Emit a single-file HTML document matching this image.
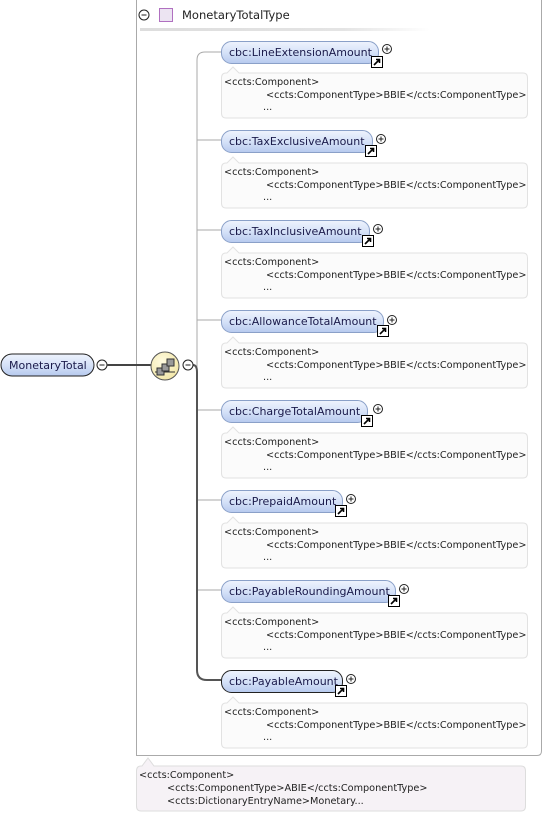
<!DOCTYPE html>
<html><head><meta charset="utf-8"><style>
body{margin:0;background:#fff;width:544px;height:815px;overflow:hidden}
svg{display:block}
text{font-family:"DejaVu Sans","Liberation Sans",sans-serif}
.el{font-size:11px;fill:#1a1a4a}
.an{font-size:9.7px;fill:#222}
</style></head><body>
<svg width="544" height="815" viewBox="0 0 544 815" xmlns="http://www.w3.org/2000/svg">
<defs>
<linearGradient id="eg" x1="0" y1="0" x2="0" y2="1">
<stop offset="0" stop-color="#eef3fd"/><stop offset="0.5" stop-color="#d6e2f8"/><stop offset="1" stop-color="#b6c9ee"/>
</linearGradient>
<linearGradient id="sep" x1="0" y1="0" x2="1" y2="0">
<stop offset="0" stop-color="#ddd"/><stop offset="0.7" stop-color="#e4e4e4"/><stop offset="1" stop-color="#fff"/>
</linearGradient>
<radialGradient id="seq" cx="0.4" cy="0.35" r="0.7">
<stop offset="0" stop-color="#fffbe0"/><stop offset="1" stop-color="#f2e6a6"/>
</radialGradient>
<g id="plus"><circle r="4.5" fill="#fff" stroke="#222"/><path d="M-2.5 0H2.5M0 -2.5V2.5" stroke="#222"/></g>
<g id="minus"><circle r="5" fill="#fff" stroke="#222"/><path d="M-2.5 0H2.5" stroke="#222"/></g>
<g id="link"><rect width="11" height="11" fill="#fff" stroke="#000"/><path d="M2.5 8.5L8 3M4.5 3H8V6.5" stroke="#000" stroke-width="1.6" fill="none"/></g>
<g id="ann"><path d="M0.5 8 Q0.5 3 5 3 H6 L12 -3 L18 3 H302 Q306.5 3 306.5 8 V43 Q306.5 48 302 48 H5 Q0.5 48 0.5 43 Z" fill="#fbfbfb" stroke="#e2e2e2"/>
<text class="an" x="3" y="15">&lt;ccts:Component&gt;</text>
<text class="an" x="45" y="28">&lt;ccts:ComponentType&gt;BBIE&lt;/ccts:ComponentType&gt;</text>
<text class="an" x="42" y="40">...</text></g>
</defs>

<!-- outer type box -->
<path d="M136.5 -2 V755.5 H537 Q541.5 755.5 541.5 751 V-2" fill="#fff" stroke="#aaa" stroke-width="1"/>
<use href="#minus" x="144" y="15"/>
<rect x="159.5" y="8.5" width="13" height="13" fill="#ece4f2" stroke="#b070c0"/>
<text x="182" y="19" font-size="11.5" fill="#222">MonetaryTotalType</text>
<rect x="140" y="28" width="290" height="3" fill="url(#sep)"/>

<!-- connector lines -->
<path d="M221 52 H205 Q197 52 197 60 V640" fill="none" stroke="#aaa"/>
<path d="M197 140H221M197 230H221M197 320H221M197 410H221M197 500H221M197 590H221" stroke="#aaa"/>
<path d="M193 365 Q197 365 197 372 V670 Q197 680 207 680 H221" fill="none" stroke="#555" stroke-width="2"/>

<!-- MonetaryTotal -->
<rect x="1" y="354" width="93" height="22" rx="11" fill="url(#eg)" stroke="#222"/>
<text class="el" x="9" y="369">MonetaryTotal</text>
<use href="#minus" x="102" y="365"/>
<path d="M107 365 H151" stroke="#444" stroke-width="2"/>
<circle cx="165" cy="366" r="14" fill="url(#seq)" stroke="#555"/>
<g stroke="#333" fill="#999">
<path d="M155 372H175" stroke-width="1"/>
<rect x="157" y="368" width="7" height="7"/><rect x="162" y="364" width="7" height="7"/><rect x="167" y="359" width="7" height="7"/>
</g>
<use href="#minus" x="188" y="365"/>

<!-- elements -->
<g>
<rect x="221.5" y="41.5" width="157" height="22" rx="10" fill="url(#eg)" stroke="#8aa0c8"/>
<text class="el" x="229" y="56">cbc:LineExtensionAmount</text>
<use href="#link" x="371.5" y="56.5"/><use href="#plus" x="387" y="49"/>
<use href="#ann" x="221" y="70"/>

<rect x="221.5" y="130.5" width="151" height="22" rx="10" fill="url(#eg)" stroke="#8aa0c8"/>
<text class="el" x="229" y="145">cbc:TaxExclusiveAmount</text>
<use href="#link" x="365.5" y="145.5"/><use href="#plus" x="381" y="139"/>
<use href="#ann" x="221" y="160"/>

<rect x="221.5" y="220.5" width="148" height="22" rx="10" fill="url(#eg)" stroke="#8aa0c8"/>
<text class="el" x="229" y="235">cbc:TaxInclusiveAmount</text>
<use href="#link" x="362.5" y="235.5"/><use href="#plus" x="378" y="229"/>
<use href="#ann" x="221" y="250"/>

<rect x="221.5" y="310.5" width="162" height="22" rx="10" fill="url(#eg)" stroke="#8aa0c8"/>
<text class="el" x="229" y="325">cbc:AllowanceTotalAmount</text>
<use href="#link" x="377.5" y="325.5"/><use href="#plus" x="392" y="320"/>
<use href="#ann" x="221" y="340"/>

<rect x="221.5" y="400.5" width="146" height="22" rx="10" fill="url(#eg)" stroke="#8aa0c8"/>
<text class="el" x="229" y="415">cbc:ChargeTotalAmount</text>
<use href="#link" x="361.5" y="415.5"/><use href="#plus" x="378" y="409"/>
<use href="#ann" x="221" y="430"/>

<rect x="221.5" y="490.5" width="121" height="22" rx="10" fill="url(#eg)" stroke="#8aa0c8"/>
<text class="el" x="229" y="505">cbc:PrepaidAmount</text>
<use href="#link" x="335.5" y="505.5"/><use href="#plus" x="351" y="499"/>
<use href="#ann" x="221" y="520"/>

<rect x="221.5" y="580.5" width="174" height="22" rx="10" fill="url(#eg)" stroke="#8aa0c8"/>
<text class="el" x="229" y="595">cbc:PayableRoundingAmount</text>
<use href="#link" x="388.5" y="595.5"/><use href="#plus" x="404" y="589"/>
<use href="#ann" x="221" y="610"/>

<rect x="221.5" y="670.5" width="121" height="22" rx="10" fill="url(#eg)" stroke="#222"/>
<text class="el" x="229" y="685">cbc:PayableAmount</text>
<use href="#link" x="335.5" y="685.5"/><use href="#plus" x="351" y="679"/>
<use href="#ann" x="221" y="700"/>
</g>

<!-- bottom annotation -->
<path d="M136.5 771 Q136.5 766 141 766 H142 L148 758 L154 766 H521 Q525.5 766 525.5 771 V806 Q525.5 811 521 811 H141 Q136.5 811 136.5 806 Z" fill="#f6f2f6" stroke="#ddd"/>
<text class="an" x="139" y="778">&lt;ccts:Component&gt;</text>
<text class="an" x="167" y="791">&lt;ccts:ComponentType&gt;ABIE&lt;/ccts:ComponentType&gt;</text>
<text class="an" x="167" y="804">&lt;ccts:DictionaryEntryName&gt;Monetary...</text>
</svg>
</body></html>
